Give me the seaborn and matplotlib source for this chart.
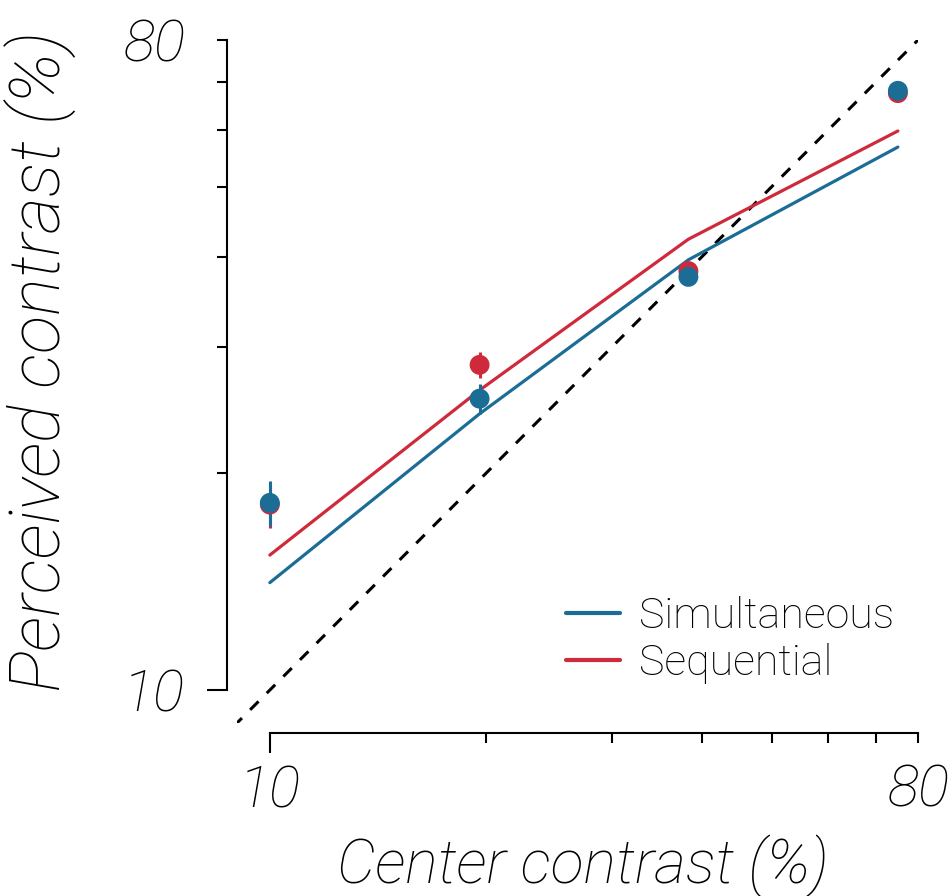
import matplotlib
matplotlib.use("Agg")
import matplotlib.pyplot as plt
import seaborn as sns
import pandas as pd
import numpy as np
from matplotlib.ticker import FixedLocator, FuncFormatter

# ---- data ----
center_contrast = [10, 19.6, 38.3, 75]
sim_mean = [18.2, 25.4, 37.5, 68.0]
sim_err = [1.3, 1.2, 0.6, 0.5]
seq_mean = [18.1, 28.3, 38.2, 67.5]
seq_err = [1.3, 1.2, 0.6, 0.5]
sim_model = [14.1, 24.2, 39.6, 56.8]
seq_model = [15.4, 26.1, 42.3, 59.8]
conditions = ["Simultaneous", "Sequential"]
y_tick_labels = {10: "10", 80: "80"}
x_tick_labels = {10: "10", 80: "80"}
xlabel = "Center contrast (%)"
ylabel = "Perceived contrast (%)"

BLUE = "#1b6d96"
RED = "#cf2a3b"
palette = {"Simultaneous": BLUE, "Sequential": RED}

sns.set_style("ticks")
FAM = ["Roboto", "DejaVu Sans"]
plt.rcParams["font.family"] = FAM
plt.rcParams["text.color"] = "black"
plt.rcParams["axes.labelcolor"] = "black"
plt.rcParams["xtick.color"] = "black"
plt.rcParams["ytick.color"] = "black"
plt.rcParams["axes.edgecolor"] = "black"
WEIGHT = "light"

model_df = pd.DataFrame({
    "contrast": center_contrast * 2,
    "perceived": sim_model + seq_model,
    "condition": ["Simultaneous"] * 4 + ["Sequential"] * 4,
})
data_df = pd.DataFrame({
    "contrast": center_contrast * 2,
    "perceived": sim_mean + seq_mean,
    "err": sim_err + seq_err,
    "condition": ["Simultaneous"] * 4 + ["Sequential"] * 4,
})

W, H = 952, 896
fig = plt.figure(figsize=(W / 100, H / 100), dpi=100)
ax = fig.add_axes([237 / W, 1 - 723 / H, (918 - 237) / W, (723 - 40) / H])
ax.set_xscale("log")
ax.set_yscale("log")

# identity line
ax.plot([8.9, 85], [8.9, 85], color="black", lw=2.2, ls=(0, (3.9, 3.8)),
        dash_capstyle="butt", zorder=1)

sns.lineplot(data=model_df, x="contrast", y="perceived", hue="condition",
             hue_order=conditions, palette=palette, lw=2.3, ax=ax, zorder=2,
             legend=True)

for cond in ["Sequential", "Simultaneous"]:
    sub = data_df[data_df["condition"] == cond]
    ax.errorbar(sub["contrast"], sub["perceived"], yerr=sub["err"], fmt="none",
                ecolor=palette[cond], elinewidth=2.2, capsize=0, zorder=3)
    sns.scatterplot(data=sub, x="contrast", y="perceived", color=palette[cond],
                    s=205, edgecolor="none", linewidth=0, ax=ax, zorder=4,
                    legend=False)

ax.set_xlim(9, 80)
ax.set_ylim(9, 80)

# spines
for s in ["top", "right"]:
    ax.spines[s].set_visible(False)
for s in ["left", "bottom"]:
    ax.spines[s].set_position(("outward", 7.2))
    ax.spines[s].set_linewidth(1.5)
    ax.spines[s].set_color("black")
    ax.spines[s].set_bounds(10, 80)

# ticks
for axis in (ax.xaxis, ax.yaxis):
    axis.set_major_locator(FixedLocator([10]))
    axis.set_minor_locator(FixedLocator([20, 30, 40, 50, 60, 70, 80]))
ax.xaxis.set_major_formatter(FuncFormatter(lambda v, p: x_tick_labels.get(int(round(v)), "")))
ax.xaxis.set_minor_formatter(FuncFormatter(lambda v, p: x_tick_labels.get(int(round(v)), "")))
ax.yaxis.set_major_formatter(FuncFormatter(lambda v, p: y_tick_labels.get(int(round(v)), "")))
ax.yaxis.set_minor_formatter(FuncFormatter(lambda v, p: y_tick_labels.get(int(round(v)), "")))

tick_font = dict(family=FAM, style="italic", weight=WEIGHT, size=42)
ax.tick_params(which="major", length=14.4, width=1.5, color="black", labelcolor="black")
ax.tick_params(which="minor", length=7.2, width=1.5, color="black", labelcolor="black")
ax.tick_params(axis="y", which="major", pad=16)
ax.tick_params(axis="y", which="minor", pad=23)
ax.tick_params(axis="x", which="major", pad=8)
ax.tick_params(axis="x", which="minor", pad=15)
for lab in ax.get_xticklabels(which="both") + ax.get_yticklabels(which="both"):
    lab.set_fontproperties(tick_font)
    lab.set_fontsize(42)
    lab.set_color("black")

ax.set_xlabel(xlabel, family=FAM, style="italic", weight=WEIGHT, size=44, color="black")
ax.set_ylabel(ylabel, family=FAM, style="italic", weight=WEIGHT, size=51, color="black")
ax.xaxis.set_label_coords((583 - 237) / 681, (723 - 834) / 683)
ax.yaxis.set_label_coords((77 - 237) / 681, (723 - 361) / 683)

# legend
handles, labels = ax.get_legend_handles_labels()
for h in handles:
    h.set_linewidth(3)
leg = ax.legend(handles, labels, loc="upper left",
                bbox_to_anchor=(566 / W, 1 - 596 / H), bbox_transform=fig.transFigure,
                frameon=False, borderpad=0, borderaxespad=0,
                handlelength=1.25, handletextpad=0.45, labelspacing=0.15,
                prop=dict(family=FAM, weight=WEIGHT, size=31))
for t in leg.get_texts():
    t.set_color("black")

fig.savefig("out.png", dpi=100)
